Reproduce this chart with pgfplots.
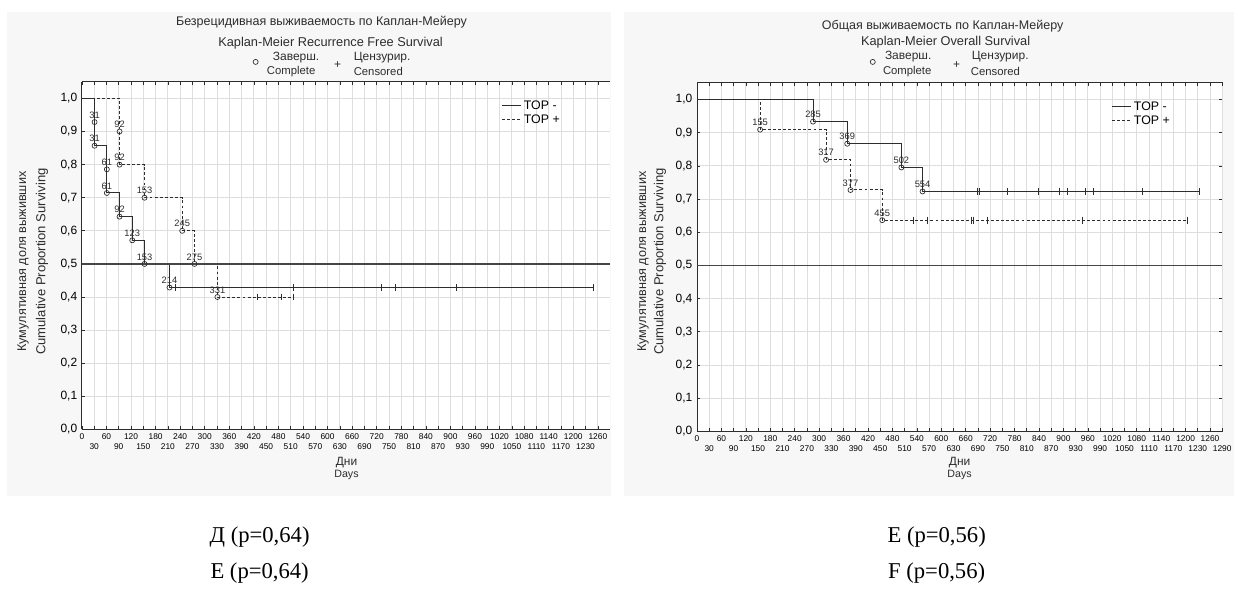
\documentclass[border=0pt]{standalone}
\usepackage{fontspec}
\setmainfont{Liberation Sans}
\newfontfamily\capfont{Liberation Serif}
\usepackage{pgfplots}
\pgfplotsset{compat=1.18}

\definecolor{panelbg}{RGB}{247,247,247}
\definecolor{gridc}{RGB}{222,222,222}
\definecolor{linec}{RGB}{45,45,45}
\definecolor{refc}{RGB}{70,70,70}

\pgfplotsset{kmaxis/.style={
  scale only axis,
  xmin=0, xmax=1290, ymin=0, ymax=1.05,
  axis background/.style={fill=white},
  axis line style={linec, line width=0.75pt},
  xtick={0,60,...,1260},
  ytick={0,0.1,0.2,0.3,0.4,0.5,0.6,0.7,0.8,0.9,1.0},
  grid=major,
  major grid style={gridc, line width=0.6pt},
  tick align=inside,
  major tick length=2.5pt,
  tick style={linec, line width=0.5pt},
  xticklabel style={font=\fontsize{6.3}{7}\selectfont, /pgf/number format/1000 sep={}},
  yticklabel style={font=\fontsize{9}{10}\selectfont, /pgf/number format/.cd, fixed, fixed zerofill, precision=1, use comma},
  /pgf/number format/assume math mode=true,
  legend style={draw=none, fill=none, font=\fontsize{9.3}{10}\selectfont, row sep=-1.5pt, anchor=north west, inner sep=0pt},
  legend cell align=left,
  legend image code/.code={\draw[##1] (0pt,0pt)--(14pt,0pt);},
  clip=false,
},
stepsolid/.style={const plot, linec, line width=0.75pt},
stepdash/.style={const plot, linec, line width=0.75pt, dash pattern=on 2.2pt off 1.6pt},
events/.style={only marks, mark=o, mark size=1.9pt, mark options={linec, line width=0.5pt, solid}, nodes near coords, point meta=explicit symbolic, every node near coord/.append style={font=\fontsize{7}{8}\selectfont, inner sep=0pt, anchor=south, yshift=2.6pt, text=linec}, forget plot},
cens/.style={only marks, mark=|, mark size=2.6pt, mark options={linec, line width=0.6pt, solid}, forget plot},
}

\begin{document}
\begin{tikzpicture}
\begin{scope}[x=0.75pt,y=-0.75pt]
  \fill[white] (0,0) rectangle (1236,592);
  \fill[panelbg] (7,12) rectangle (612,497);
  \fill[panelbg] (625,12) rectangle (1236,497);
\end{scope}

% ---------- left: RFS ----------
\begin{axis}[kmaxis,
  at={(61.5pt,-322.5pt)}, anchor=south west,
  width=396.75pt, height=261pt,
  axis y line*=left,
  extra x ticks={30,90,...,1230},
  extra x tick style={grid=major, xticklabel style={yshift=-7.5pt}},
  legend style={at={(0.794,0.955)}},
]
\addplot[stepsolid] coordinates {(0,1) (31,0.8571) (61,0.7143) (92,0.6429) (123,0.5714) (153,0.5) (214,0.4286) (1249,0.4286)};
\addlegendentry{TOP -}
\addplot[stepdash] coordinates {(0,1) (92,0.8) (153,0.7) (245,0.6) (275,0.5) (331,0.4) (517,0.4)};
\addlegendentry{TOP +}
\addplot[refc, line width=1pt, forget plot] coordinates {(0,0.5) (1290,0.5)};
\addplot[events] coordinates {(31,0.9286) [31] (31,0.8571) [31] (61,0.7857) [61] (61,0.7143) [61] (92,0.6429) [92] (123,0.5714) [123] (153,0.5) [153] (214,0.4286) [214]};
\addplot[events] coordinates {(92,0.9) [92] (92,0.8) [92] (153,0.7) [153] (245,0.6) [245] (275,0.5) [275] (331,0.4) [331]};
\addplot[cens] coordinates {(229,0.4286) (517,0.4286) (732,0.4286) (766,0.4286) (915,0.4286) (1249,0.4286)};
\addplot[cens] coordinates {(429,0.4) (488,0.4) (517,0.4)};
\end{axis}

% ---------- right: OS ----------
\begin{axis}[kmaxis,
  at={(523.5pt,-324pt)}, anchor=south west,
  width=394.5pt, height=261.75pt,
  extra x ticks={30,90,...,1290},
  extra x tick style={grid=major, xticklabel style={yshift=-7.5pt}},
  legend style={at={(0.789,0.955)}},
]
\addplot[stepsolid] coordinates {(0,1) (285,0.9333) (369,0.8667) (502,0.7952) (554,0.7229) (1233,0.7229)};
\addlegendentry{TOP -}
\addplot[stepdash] coordinates {(0,1) (155,0.9091) (317,0.8182) (377,0.7273) (455,0.6364) (1204,0.6364)};
\addlegendentry{TOP +}
\addplot[refc, line width=1pt, forget plot] coordinates {(0,0.5) (1290,0.5)};
\addplot[events] coordinates {(285,0.9333) [285] (369,0.8667) [369] (502,0.7952) [502] (554,0.7229) [554]};
\addplot[events] coordinates {(155,0.9091) [155] (317,0.8182) [317] (377,0.7273) [377] (455,0.6364) [455]};
\addplot[cens] coordinates {(689,0.7229) (694,0.7229) (762,0.7229) (838,0.7229) (891,0.7229) (910,0.7229) (955,0.7229) (973,0.7229) (1094,0.7229) (1233,0.7229)};
\addplot[cens] coordinates {(532,0.6364) (567,0.6364) (673,0.6364) (679,0.6364) (712,0.6364) (946,0.6364) (1204,0.6364)};
\end{axis}

\begin{scope}[x=0.75pt,y=-0.75pt, text=linec]
  % left titles
  \node[font=\fontsize{9.4}{10}\selectfont] at (322,22) {Безрецидивная выживаемость по Каплан-Мейеру};
  \node[font=\fontsize{9.6}{10}\selectfont] at (331,43) {Kaplan-Meier Recurrence Free Survival};
  \draw[linec, line width=0.5pt] (256,62) circle (1.9pt);
  \node[font=\fontsize{9}{10}\selectfont, anchor=west, inner sep=0pt] at (273,58) {Заверш.};
  \node[font=\fontsize{8.5}{9}\selectfont, anchor=west, inner sep=0pt] at (267,72) {Complete};
  \node[font=\fontsize{9}{10}\selectfont] at (338,65) {+};
  \node[font=\fontsize{9}{10}\selectfont, anchor=west, inner sep=0pt] at (354,58) {Цензурир.};
  \node[font=\fontsize{8.5}{9}\selectfont, anchor=west, inner sep=0pt] at (354,72) {Censored};
  % right titles
  \node[font=\fontsize{9.4}{10}\selectfont] at (944,26) {Общая выживаемость по Каплан-Мейеру};
  \node[font=\fontsize{9.6}{10}\selectfont] at (947,42) {Kaplan-Meier Overall Survival};
  \draw[linec, line width=0.5pt] (874,62) circle (1.9pt);
  \node[font=\fontsize{9}{10}\selectfont, anchor=west, inner sep=0pt] at (886,57) {Заверш.};
  \node[font=\fontsize{8.5}{9}\selectfont, anchor=west, inner sep=0pt] at (884,72) {Complete};
  \node[font=\fontsize{9}{10}\selectfont] at (958,65) {+};
  \node[font=\fontsize{9}{10}\selectfont, anchor=west, inner sep=0pt] at (973,57) {Цензурир.};
  \node[font=\fontsize{8.5}{9}\selectfont, anchor=west, inner sep=0pt] at (972,72) {Censored};
  % x labels
  \node[font=\fontsize{9}{10}\selectfont] at (347,463) {Дни};
  \node[font=\fontsize{8}{9}\selectfont] at (347,476) {Days};
  \node[font=\fontsize{9}{10}\selectfont] at (961,463) {Дни};
  \node[font=\fontsize{8}{9}\selectfont] at (961,476) {Days};
  % y labels
  \node[font=\fontsize{9.5}{10}\selectfont, rotate=90] at (23,262) {Кумулятивная доля выживших};
  \node[font=\fontsize{9.8}{10}\selectfont, rotate=90] at (42,262) {Cumulative Proportion Surviving};
  \node[font=\fontsize{9.5}{10}\selectfont, rotate=90] at (644,262) {Кумулятивная доля выживших};
  \node[font=\fontsize{9.8}{10}\selectfont, rotate=90] at (661,262) {Cumulative Proportion Surviving};
  % captions
  \node[font=\capfont\fontsize{17}{19}\selectfont, text=black] at (260,538) {Д (p=0,64)};
  \node[font=\capfont\fontsize{17}{19}\selectfont, text=black] at (260,574) {Е (p=0,64)};
  \node[font=\capfont\fontsize{17}{19}\selectfont, text=black] at (938,538) {E (p=0,56)};
  \node[font=\capfont\fontsize{17}{19}\selectfont, text=black] at (938,574) {F (p=0,56)};
\end{scope}
\end{tikzpicture}
\end{document}
